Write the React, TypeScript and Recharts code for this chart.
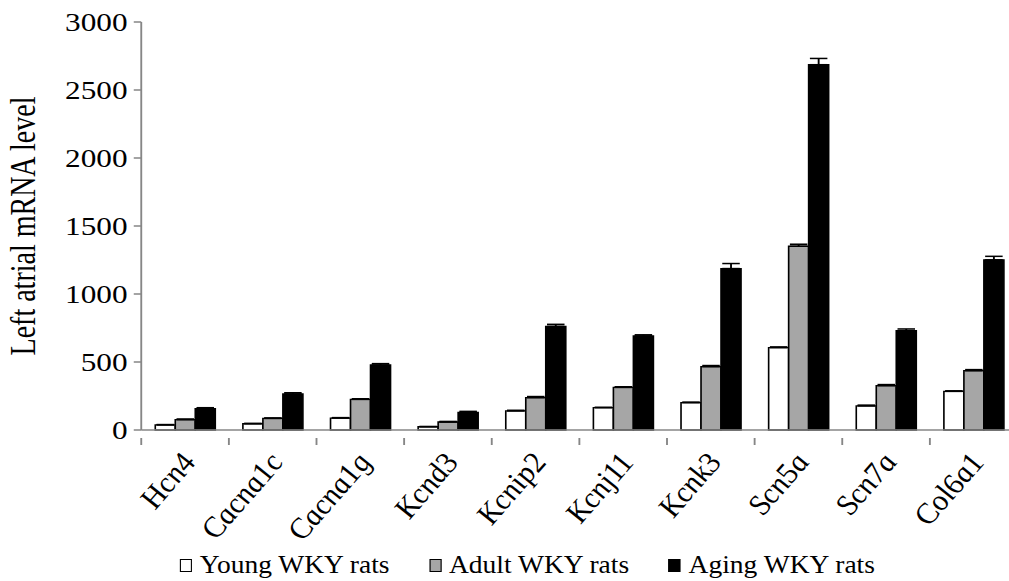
import React from "react"
import { Bar, BarChart, ErrorBar, Legend, XAxis, YAxis } from "recharts"

const genes = ["Hcn4", "Cacna1c", "Cacna1g", "Kcnd3", "Kcnip2", "Kcnj11", "Kcnk3", "Scn5a", "Scn7a", "Col6a1"]

const young = [37, 46, 88, 24, 140, 164, 201, 606, 177, 284]
const adult = [76, 85, 225, 59, 238, 313, 466, 1351, 326, 436]
const aging = [157, 265, 478, 130, 762, 692, 1187, 2686, 731, 1251]

const youngErr = [3, 3, 3, 2, 5, 3, 4, 5, 6, 4]
const adultErr = [5, 4, 5, 4, 8, 5, 8, 15, 8, 8]
const agingErr = [7, 9, 10, 7, 15, 8, 37, 46, 12, 26]

const yTicks = [0, 500, 1000, 1500, 2000, 2500, 3000]

const series = [
  { key: "young", name: "Young WKY rats", fill: "#ffffff" },
  { key: "adult", name: "Adult WKY rats", fill: "#a6a6a6" },
  { key: "aging", name: "Aging WKY rats", fill: "#000000" },
]

const data = genes.map((g, i) => ({
  gene: g,
  young: young[i],
  adult: adult[i],
  aging: aging[i],
  youngErr: [0, youngErr[i]],
  adultErr: [0, adultErr[i]],
  agingErr: [0, agingErr[i]],
}))

// the reference is stretched sideways, so draw narrow and scale the whole chart
const SX = 1.25
const CHART_W = 814
const AXIS_LEFT = 113
const HALF_BAND = (CHART_W - AXIS_LEFT) / genes.length / 2
const FONT = "'Liberation Serif', 'Times New Roman', serif"
const GREY = "#868686"

function GeneTick(props: any) {
  const { x, y, payload, index } = props
  return (
    <g>
      <line x1={x - HALF_BAND} x2={x - HALF_BAND} y1={y} y2={y + 7} stroke={GREY} strokeWidth={1.5} />
      {index === genes.length - 1 && (
        <line x1={x + HALF_BAND} x2={x + HALF_BAND} y1={y} y2={y + 7} stroke={GREY} strokeWidth={1.5} />
      )}
      <text
        x={0}
        y={0}
        transform={`translate(${x + 10},${y + 24}) rotate(-55)`}
        textAnchor="end"
        fontFamily={FONT}
        fontStyle="italic"
        fontSize={27}
        fill="#000"
      >
        {payload.value}
      </text>
    </g>
  )
}

function LegendBox() {
  return (
    <div
      style={{
        display: "flex",
        justifyContent: "center",
        paddingLeft: 34,
        fontFamily: FONT,
        fontSize: 25,
        color: "#000",
        transform: "scale(0.88,1)",
        transformOrigin: "center",
      }}
    >
      {series.map((s) => (
        <span key={s.key} style={{ display: "flex", alignItems: "center", margin: "0 18px" }}>
          <span
            style={{
              display: "inline-block",
              width: 9,
              height: 11,
              background: s.fill,
              border: "1.3px solid #000",
              marginRight: 7,
            }}
          />
          {s.name}
        </span>
      ))}
    </div>
  )
}

export default function App() {
  return (
    <div style={{ position: "absolute", left: 0, top: 0, width: 1009, height: 581, overflow: "hidden", background: "#fff" }}>
      <div style={{ transform: `scale(${SX},1)`, transformOrigin: "0 0", width: CHART_W }}>
        <BarChart
          width={CHART_W}
          height={581}
          data={data}
          margin={{ top: 22, right: 0, bottom: 0, left: 0 }}
          barCategoryGap="16%"
          barGap={0}
        >
          <YAxis
            width={AXIS_LEFT}
            domain={[0, 3000]}
            ticks={yTicks}
            interval={0}
            axisLine={{ stroke: GREY, strokeWidth: 1.5 }}
            tickLine={{ stroke: GREY, strokeWidth: 1.5 }}
            tickSize={6}
            tickMargin={5}
            tick={{ fontFamily: FONT, fontSize: 25, fill: "#000" }}
            label={{
              value: "Left atrial mRNA level",
              angle: -90,
              position: "insideLeft",
              offset: 18,
              style: { textAnchor: "middle", fontFamily: FONT, fontSize: 28, fill: "#000" },
            }}
          />
          <XAxis
            dataKey="gene"
            height={151}
            interval={0}
            axisLine={{ stroke: GREY, strokeWidth: 1.5 }}
            tickLine={false}
            tick={<GeneTick />}
          />
          <Legend
            verticalAlign="middle"
            align="center"
            layout="horizontal"
            content={<LegendBox />}
            wrapperStyle={{ top: 551, left: 0, width: CHART_W }}
          />
          {series.map((s) => (
            <Bar
              key={s.key}
              dataKey={s.key}
              name={s.name}
              fill={s.fill}
              stroke="#000"
              strokeWidth={1.3}
              isAnimationActive={false}
            >
              <ErrorBar dataKey={`${s.key}Err`} width={7} stroke="#000" strokeWidth={1.5} direction="y" />
            </Bar>
          ))}
        </BarChart>
      </div>
    </div>
  )
}
